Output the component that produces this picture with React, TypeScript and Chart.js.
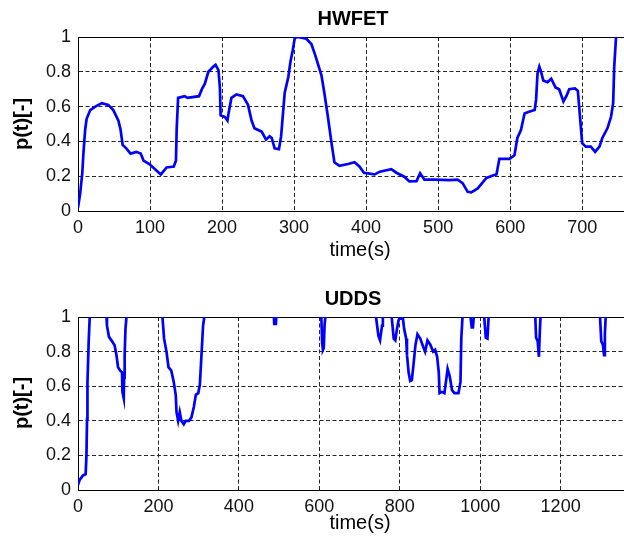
import React, { useEffect, useRef } from "react";
import { Chart, registerables } from "chart.js";

Chart.register(...registerables);

// ---------- data ----------
const hwfetTime = [
  0, 3, 6, 7.5, 10, 12, 17, 24, 33, 42, 49, 56, 59, 62, 67, 73, 81, 87, 91, 99,
  107, 115, 123, 133, 136, 137, 139, 148, 152, 168, 172, 176, 181, 188, 191, 195,
  197, 198, 204, 207.5, 209, 213, 220, 229, 236, 241, 245, 255, 261, 266, 269, 273,
  279, 282, 287, 292, 295, 298, 301, 305, 312, 317, 324, 329, 338, 342, 347, 352,
  356, 363, 375, 384, 391, 397, 405, 412, 419, 435, 442, 453, 460, 470, 475, 481,
  495, 516, 527, 534, 541, 546, 555, 567, 578, 581, 585, 599, 606, 610, 615, 620,
  626, 634, 636, 638, 640.5, 643, 646, 652, 657, 663, 668, 674, 678, 682, 690, 694,
  697, 700, 705, 712, 718, 724, 728, 735, 740, 743, 744.5, 747, 750, 765,
];
const hwfetP = [
  0.02, 0.1, 0.22, 0.33, 0.47, 0.53, 0.58, 0.6, 0.62, 0.61, 0.58, 0.52, 0.47, 0.38, 0.36, 0.33, 0.34, 0.33, 0.29, 0.27,
  0.24, 0.21, 0.25, 0.255, 0.29, 0.47, 0.65, 0.66, 0.65, 0.66, 0.7, 0.73, 0.8, 0.83, 0.84, 0.81,
  0.71, 0.55, 0.54, 0.52, 0.56, 0.65, 0.67, 0.66, 0.61, 0.52, 0.475, 0.456, 0.41, 0.43, 0.42, 0.36,
  0.355, 0.43, 0.68, 0.77, 0.86, 0.92, 0.995, 1.0, 0.995, 0.99, 0.96, 0.9, 0.78, 0.68, 0.54, 0.39,
  0.28, 0.26, 0.27, 0.28, 0.255, 0.22, 0.215, 0.21, 0.226, 0.24, 0.22, 0.197, 0.17, 0.172, 0.217, 0.18,
  0.18, 0.178, 0.18, 0.16, 0.11, 0.107, 0.13, 0.19, 0.207, 0.21, 0.3, 0.3, 0.32, 0.42, 0.465, 0.56,
  0.57, 0.58, 0.64, 0.79, 0.83, 0.8, 0.75, 0.74, 0.76, 0.71, 0.7, 0.63, 0.66, 0.7, 0.705, 0.69,
  0.54, 0.39, 0.37, 0.37, 0.34, 0.37, 0.42, 0.475, 0.54, 0.62, 0.83, 1.0, 1.05, 1.05,
];

const uddsTime = [
  0, 4, 12, 19, 21, 22.5, 23.5, 26.5, 29, 31, 70, 72, 77, 83, 91, 95.6, 99.6, 105, 109.5, 110.5,
  113.8, 114.6, 116, 118, 120.5, 122, 208, 210, 214, 220, 225, 232, 238, 243, 245, 249, 253, 257,
  263, 268, 276, 282, 288, 293, 299, 303, 307, 311, 314, 316, 485, 487, 488, 492, 493, 495,
  603, 605, 607, 609, 611, 613, 615, 617, 739, 741, 747, 751, 756, 758, 760, 778, 780, 785,
  789, 793, 797, 801, 808, 811, 816, 818, 822, 826, 830, 834, 839, 844, 851, 858, 863, 869,
  876, 883, 888, 893, 897, 899, 905, 911, 916, 919, 924, 930, 936, 946, 951, 953, 956, 958,
  974, 976, 979, 982, 984, 986, 1008, 1010, 1014, 1018, 1021, 1023, 1135, 1137, 1139, 1143,
  1146, 1148, 1150, 1152, 1296, 1298, 1301, 1305, 1308, 1310, 1312, 1314, 1370,
];
const uddsP = [
  0.03, 0.058, 0.083, 0.092, 0.2, 0.41, 0.62, 0.855, 0.99, 1.05, 1.05, 0.95, 0.885, 0.865, 0.837, 0.78, 0.71, 0.69, 0.68, 0.567,
  0.53, 0.65, 0.78, 0.93, 1.0, 1.05, 1.05, 1.0, 0.875, 0.8, 0.71, 0.69, 0.625, 0.55, 0.45, 0.4, 0.45, 0.4,
  0.38, 0.4, 0.4, 0.42, 0.48, 0.55, 0.56, 0.61, 0.78, 0.95, 1.0, 1.05, 1.05, 1.0, 0.96, 0.96, 1.0, 1.05,
  1.05, 1.0, 0.85, 0.81, 0.82, 0.95, 1.0, 1.05, 1.05, 1.0, 0.89, 0.865, 0.95, 1.0, 1.05, 1.05, 1.0, 0.875,
  0.865, 0.93, 0.98, 1.0, 0.99, 0.93, 0.875, 0.78, 0.68, 0.63, 0.635, 0.72, 0.837, 0.9, 0.875, 0.83, 0.8, 0.865,
  0.84, 0.8, 0.81, 0.77, 0.68, 0.56, 0.567, 0.56, 0.645, 0.7, 0.66, 0.577, 0.56, 0.56, 0.625, 0.875, 1.0, 1.05,
  1.05, 1.0, 0.94, 0.94, 1.0, 1.05, 1.05, 1.0, 0.88, 0.875, 1.0, 1.05, 1.05, 1.0, 0.88, 0.86,
  0.77, 0.9, 1.0, 1.05, 1.05, 1.0, 0.86, 0.84, 0.78, 0.9, 1.0, 1.05, 1.05,
];

const hwfetTitle = "HWFET";
const uddsTitle = "UDDS";
const xLabel = "time(s)";
const yLabel = "p(t)[-]";
const hwfetXMax = 765;
const uddsXMax = 1370;
const hwfetXTicks = [0, 100, 200, 300, 400, 500, 600, 700];
const uddsXTicks = [0, 200, 400, 600, 800, 1000, 1200];
const yTicks = [0, 0.2, 0.4, 0.6, 0.8, 1];
const yTickLabels = ["0", "0.2", "0.4", "0.6", "0.8", "1"];

// ---------- styling ----------
const FONT = '"Liberation Sans", Arial, Helvetica, sans-serif';
const CANVAS_W = 640;

const textPlugin = {
  id: "panelText",
  beforeDatasetsDraw(chart: any) {
    const { ctx, chartArea: a } = chart;
    const al = (v: number) => Math.round(v - 0.5) + 0.5;
    ctx.save();
    ctx.setLineDash([]);
    ctx.strokeStyle = "#000";
    ctx.lineWidth = 1;
    ctx.beginPath();
    ctx.moveTo(al(a.left), al(a.bottom));
    ctx.lineTo(al(a.left), al(a.top));
    ctx.lineTo(al(a.right), al(a.top));
    ctx.lineTo(al(a.right), al(a.bottom));
    ctx.lineTo(al(a.left), al(a.bottom));
    ctx.stroke();
    ctx.restore();
  },
  afterDraw(chart: any, _args: any, opts: any) {
    const { ctx } = chart;
    ctx.save();
    ctx.fillStyle = "#000";
    ctx.textAlign = "center";
    ctx.textBaseline = "alphabetic";
    ctx.font = `bold 20px ${FONT}`;
    ctx.fillText(opts.title, opts.titleX, opts.titleY);
    ctx.font = `20px ${FONT}`;
    ctx.fillText(opts.xlabel, opts.xlabelX, opts.xlabelY);
    ctx.translate(opts.ylabelX, opts.ylabelY);
    ctx.rotate(-Math.PI / 2);
    ctx.font = `bold 20px ${FONT}`;
    ctx.fillText(opts.ylabel, 0, 0);
    ctx.restore();
  },
};

type Panel = {
  title: string;
  times: number[];
  values: number[];
  xMax: number;
  xTicks: number[];
  height: number;
  plotTop: number;
  plotBottom: number;
  titleY: number;
  xlabelY: number;
  ylabelY: number;
};

function buildConfig(p: Panel): any {
  const data = p.times.map((t, i) => ({ x: t, y: p.values[i] }));
  return {
    type: "line",
    data: {
      datasets: [
        {
          data,
          borderColor: "#0000ff",
          borderWidth: 2.7,
          pointRadius: 0,
          tension: 0,
          fill: false,
          clip: 0,
        },
      ],
    },
    options: {
      animation: false,
      responsive: false,
      events: [],
      layout: { padding: { top: p.plotTop, left: 0, right: CANVAS_W - 629, bottom: 0 } },
      plugins: {
        legend: { display: false },
        tooltip: { enabled: false },
        title: { display: false },
        panelText: {
          title: p.title,
          titleX: 353,
          titleY: p.titleY,
          xlabel: xLabel,
          xlabelX: 360,
          xlabelY: p.xlabelY,
          ylabel: yLabel,
          ylabelX: 28,
          ylabelY: p.ylabelY,
        },
      },
      scales: {
        x: {
          type: "linear",
          min: 0,
          max: p.xMax,
          afterFit: (s: any) => {
            s.height = p.height - p.plotBottom;
          },
          afterBuildTicks: (s: any) => {
            s.ticks = p.xTicks.map((v) => ({ value: v }));
          },
          ticks: {
            autoSkip: false,
            maxRotation: 0,
            padding: 6,
            color: "#111",
            font: { family: FONT, size: 18 },
            callback: (v: number) => String(v),
          },
          grid: { color: "#262626", lineWidth: 1, drawTicks: false },
          border: { display: true, color: "#000", width: 1, dash: [4, 2.5] },
        },
        y: {
          type: "linear",
          min: yTicks[0],
          max: yTicks[yTicks.length - 1],
          afterFit: (s: any) => {
            s.width = 78;
          },
          afterBuildTicks: (s: any) => {
            s.ticks = yTicks.map((v) => ({ value: v }));
          },
          ticks: {
            padding: 7,
            color: "#111",
            font: { family: FONT, size: 18 },
            callback: (v: number) => {
              const i = yTicks.findIndex((t) => Math.abs(t - v) < 1e-9);
              return i >= 0 ? yTickLabels[i] : String(v);
            },
          },
          grid: { color: "#262626", lineWidth: 1, drawTicks: false },
          border: { display: true, color: "#000", width: 1, dash: [4, 2.5] },
        },
      },
    },
    plugins: [textPlugin],
  };
}

function PanelChart({ panel, top }: { panel: Panel; top: number }) {
  const ref = useRef<HTMLCanvasElement | null>(null);
  useEffect(() => {
    if (!ref.current) return;
    const chart = new Chart(ref.current, buildConfig(panel));
    return () => chart.destroy();
  }, [panel]);
  return (
    <canvas
      ref={ref}
      width={CANVAS_W}
      height={panel.height}
      style={{ position: "absolute", left: 0, top, width: CANVAS_W, height: panel.height, display: "block" }}
    />
  );
}

const topPanel: Panel = {
  title: hwfetTitle,
  times: hwfetTime,
  values: hwfetP,
  xMax: hwfetXMax,
  xTicks: hwfetXTicks,
  height: 265,
  plotTop: 37,
  plotBottom: 211,
  titleY: 25,
  xlabelY: 256,
  ylabelY: 124,
};

const bottomPanel: Panel = {
  title: uddsTitle,
  times: uddsTime,
  values: uddsP,
  xMax: uddsXMax,
  xTicks: uddsXTicks,
  height: 272,
  plotTop: 47,
  plotBottom: 220,
  titleY: 35,
  xlabelY: 259,
  ylabelY: 133,
};

export default function App() {
  return (
    <div
      style={{
        position: "absolute",
        left: 0,
        top: 0,
        width: 624,
        height: 542,
        overflow: "hidden",
        background: "#fff",
      }}
    >
      <PanelChart panel={topPanel} top={0} />
      <PanelChart panel={bottomPanel} top={270} />
    </div>
  );
}
